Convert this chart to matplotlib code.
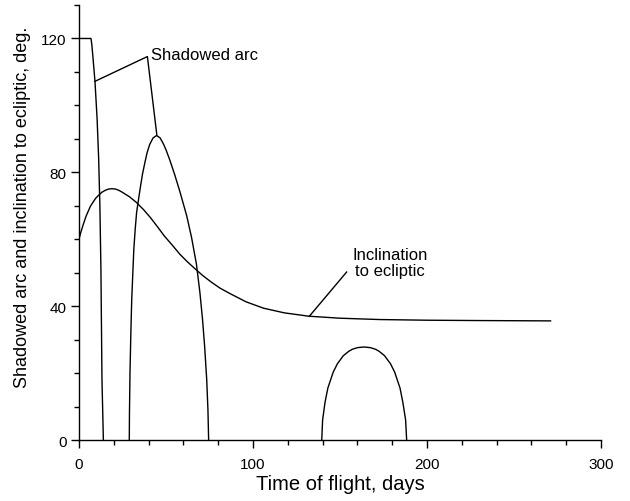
import matplotlib
matplotlib.use("Agg")
import matplotlib.pyplot as plt
from matplotlib.ticker import MultipleLocator

plt.rcParams['font.family'] = ['Liberation Sans', 'DejaVu Sans']

# Shadowed arc (three lobes), degrees vs days
arc1_x = [0, 6.9, 7.4, 8.0, 9.2, 10.4, 11.3, 12.0, 12.6, 13.2, 13.7, 14.0]
arc1_y = [120, 120, 118, 114.5, 107, 96, 84, 70, 51, 18, 7, 0]

arc2_x = [28.9, 29.0, 29.3, 29.8, 30.3, 31.5, 32.3, 33.1, 35.1, 36.5, 37.9,
          39.1, 40.6, 42.6, 44.6, 46.6, 48.6, 50.1, 52.3, 55.0, 58.0, 61.9,
          64.7, 67.5, 69.5, 71.0, 72.2, 73.4, 74.1, 74.5]
arc2_y = [0, 8, 20, 32, 42, 57, 63, 68, 75, 79.5, 83,
          85.8, 88.3, 90.3, 91, 90.3, 88.4, 86.6, 83.5, 79.3, 74.2, 67.0,
          60.5, 52.5, 44, 36, 28, 18, 9, 0]

arc3_x = [139.5, 140.0, 141.4, 143.0, 146.1, 148.5, 151.9, 155.0, 157.0,
          160.0, 163.75, 167.5, 170.5, 172.5, 175.6, 179.0, 181.4, 184.5,
          186.1, 187.7, 188.3]
arc3_y = [0, 6, 11.3, 15.5, 20.3, 22.8, 25.2, 26.5, 27.1,
          27.6, 27.8, 27.6, 27.1, 26.5, 25.2, 22.8, 20.3, 15.5,
          11.3, 6, 0]

# Inclination to ecliptic
inc_x = [0, 1, 2.5, 4, 5, 6.5, 8, 9.5, 11, 13, 15, 17, 19, 21, 23, 25, 29,
         33, 37, 41, 45, 49, 53.5, 58, 62, 66, 71, 76, 81, 87, 96, 106, 118,
         132, 150, 173, 200, 230, 271]
inc_y = [60, 62, 64.5, 66.8, 68, 69.8, 71, 72.2, 73, 74, 74.6, 75, 75.1, 75,
         74.6, 74, 72.7, 71, 68.9, 66.5, 63.8, 61, 58.3, 55.5, 53.4, 51.5,
         49.2, 47.2, 45.4, 43.7, 41.3, 39.4, 38.0, 37.0, 36.4, 36.0, 35.8,
         35.7, 35.6]

x_ticks = [0, 100, 200, 300]
y_ticks = [0, 40, 80, 120]

fig = plt.figure(figsize=(6.3, 5.02), dpi=100)
ax = fig.add_axes([0.1254, 0.1215, 0.8286, 0.8665])

lw = 1.0
ax.plot(arc1_x, arc1_y, color='black', lw=lw)
ax.plot(arc2_x, arc2_y, color='black', lw=lw)
ax.plot(arc3_x, arc3_y, color='black', lw=lw)
ax.plot(inc_x, inc_y, color='black', lw=lw)

ax.set_xlim(0, 300)
ax.set_ylim(0, 130)
ax.set_xticks(x_ticks)
ax.set_yticks(y_ticks)
ax.xaxis.set_minor_locator(MultipleLocator(20))
ax.yaxis.set_minor_locator(MultipleLocator(10))
ax.spines['top'].set_visible(False)
ax.spines['right'].set_visible(False)
for s in ('left', 'bottom'):
    ax.spines[s].set_linewidth(1.0)
ax.tick_params(which='major', direction='out', length=6, width=1.0,
               labelsize=11, pad=3)
ax.tick_params(which='minor', direction='out', length=3.5, width=1.0)
ax.tick_params(axis='x', which='major', pad=6)

ax.set_xlabel('Time of flight, days', fontsize=14.5)
ax.xaxis.set_label_coords(0.5, -0.101)
ax.xaxis.label.set_va('center')
ax.set_ylabel('Shadowed arc and inclination to ecliptic, deg.', fontsize=13)
ax.yaxis.set_label_coords(-0.109, 0.536)
ax.yaxis.label.set_va('center')

# Annotations
ax.text(41.4, 115.3, 'Shadowed arc', fontsize=12, ha='left', va='center')
ax.plot([9.2, 39.3, 44.7], [107.2, 114.6, 91.3], color='black', lw=lw)

ax.text(178.7, 53.0, 'Inclination\nto ecliptic', fontsize=12, ha='center',
        va='center', linespacing=1.1)
ax.plot([132.4, 153.8], [37.0, 50.2], color='black', lw=lw)

fig.savefig('out.png', dpi=100)
